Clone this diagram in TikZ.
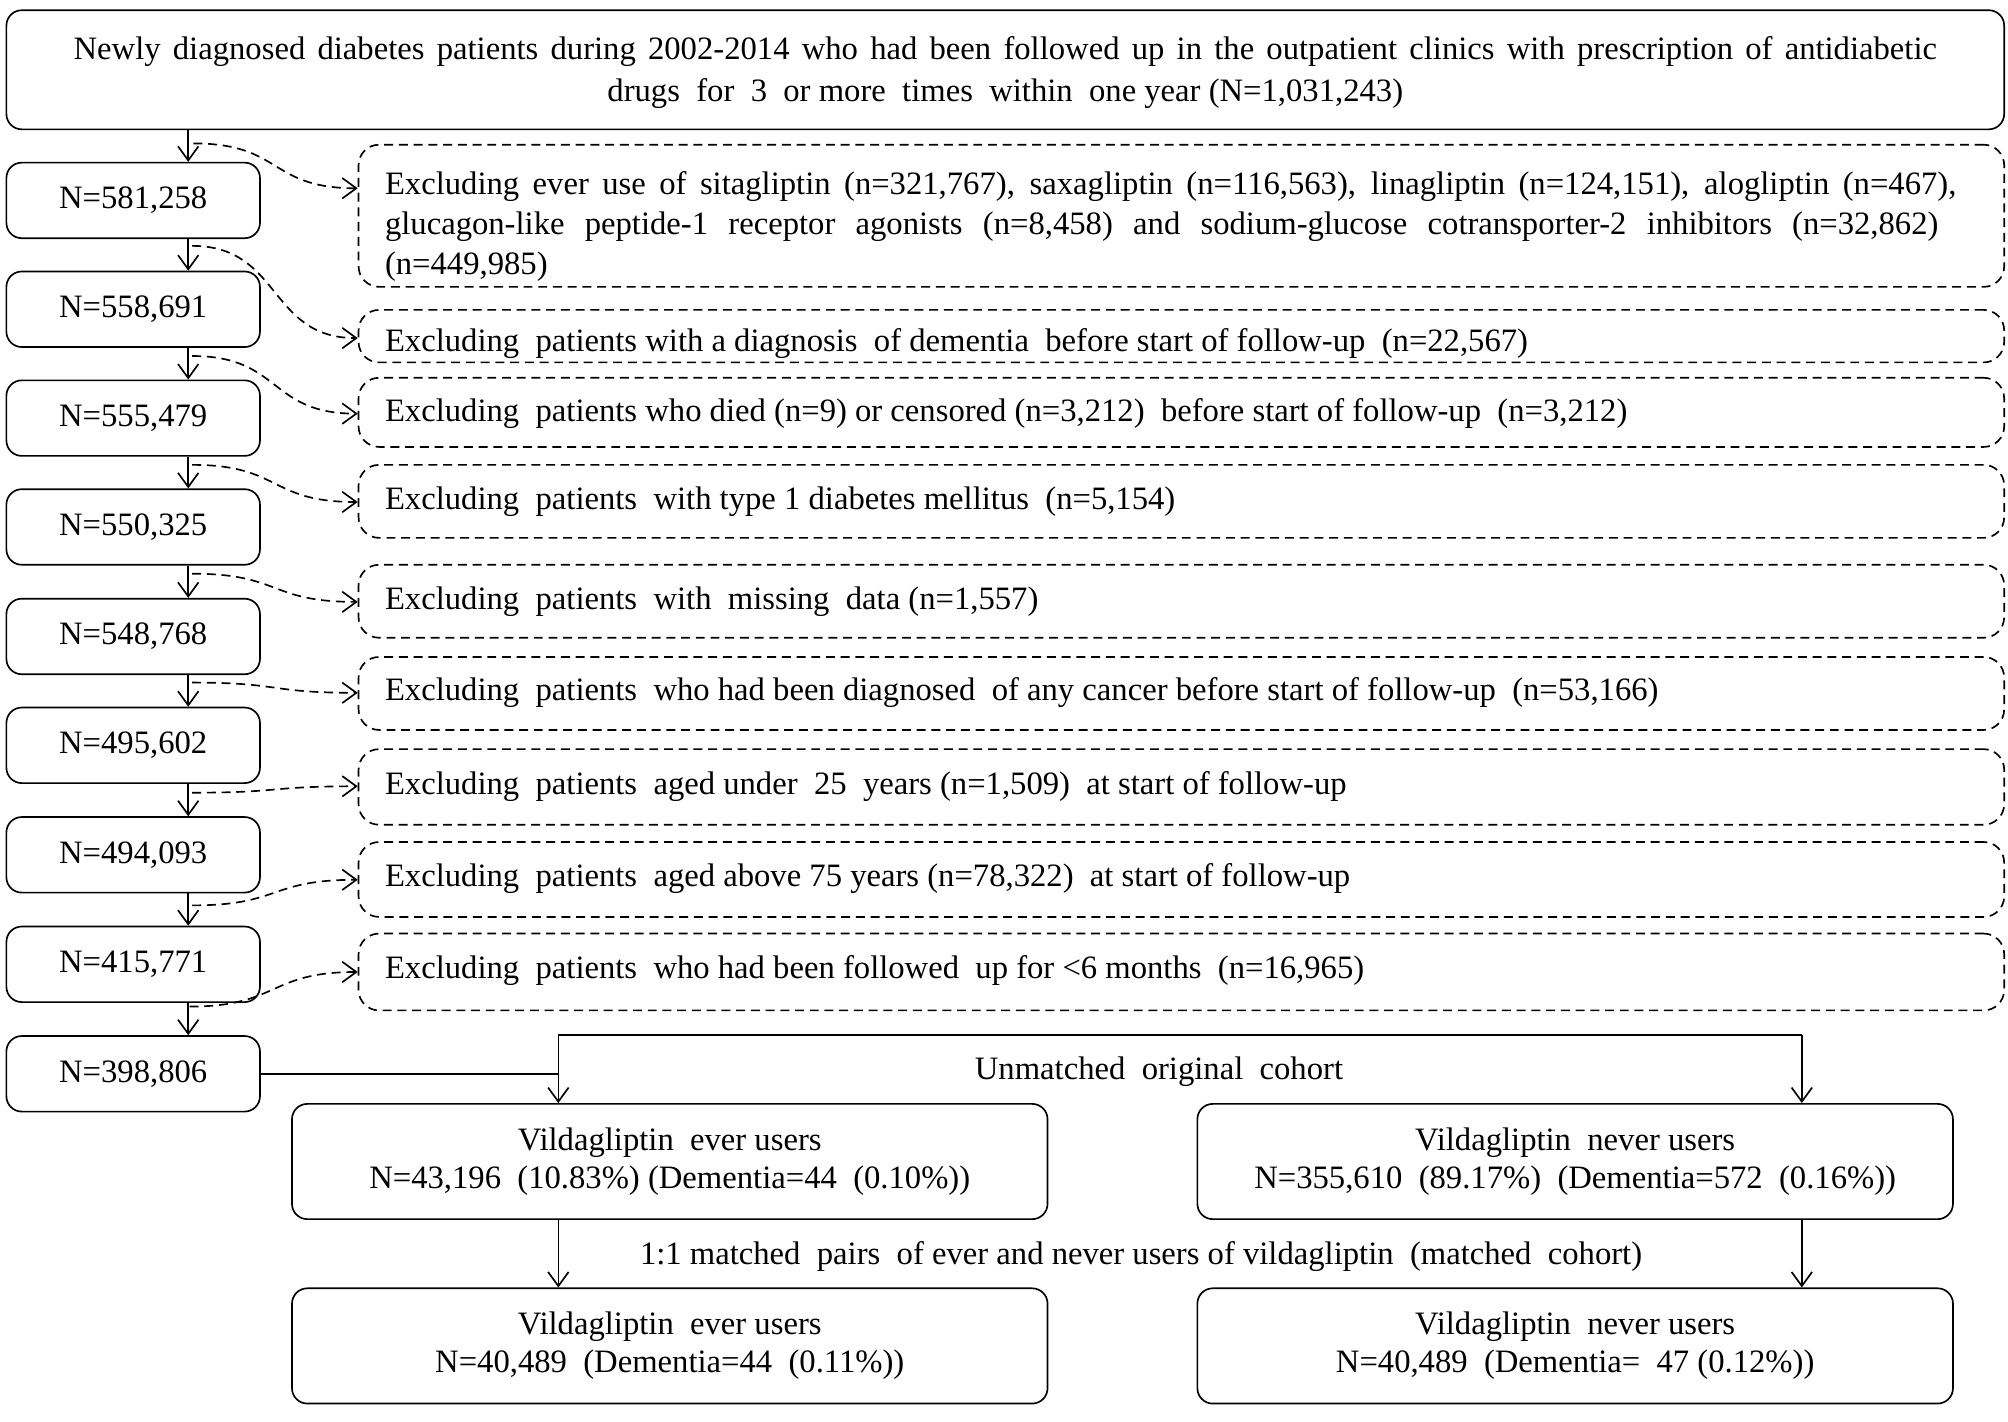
\documentclass[tikz,border=0pt]{standalone}
\usepackage{fontspec}
\setmainfont{Liberation Serif}
\usetikzlibrary{arrows.meta}
\newcommand{\ds}{\hspace{0.5em}}
\begin{document}
\begin{tikzpicture}[x=1pt,y=-1pt,
  font=\fontsize{25.5}{29.5}\selectfont,
  line width=1.3pt,
  solidbox/.style={draw, rounded corners=12pt, inner sep=0pt, align=center},
  dashbox/.style={draw, dash pattern=on 7pt off 4.5pt, rounded corners=16pt, inner sep=0pt,
    minimum width=1285pt},
  dtext/.style={anchor=west, inner sep=0pt, align=left},
  nbox/.style={solidbox, minimum width=198pt, minimum height=59pt},
  userbox/.style={solidbox, minimum width=590pt, minimum height=90pt},
  arr/.style={-{Straight Barb[length=11pt,width=16pt,line width=1.3pt]}},
  darr/.style={arr, dash pattern=on 7pt off 4.5pt},
]
\useasboundingbox (0,0) rectangle (1568,1110);

\node[solidbox, minimum width=1560pt, minimum height=93pt] (top) at (785,54.5) {};
\node[align=center, inner sep=0pt, font=\fontsize{25.5}{33}\selectfont] (ttop) at (785,56.5)
 {\makebox[1455pt][s]{Newly diagnosed diabetes patients during 2002-2014 who had been followed up in the outpatient clinics with prescription of antidiabetic}\\
  drugs\ds for\ds 3\ds or more\ds times\ds within\ds one year (N=1,031,243)};

\coordinate (cx) at (147,0);
\node[nbox] (n1) at (104,156.5) {N=581,258};
\node[nbox] (n2) at (104,241.5) {N=558,691};
\node[nbox] (n3) at (104,326.5) {N=555,479};
\node[nbox] (n4) at (104,411.5) {N=550,325};
\node[nbox] (n5) at (104,497) {N=548,768};
\node[nbox] (n6) at (104,582) {N=495,602};
\node[nbox] (n7) at (104,667.5) {N=494,093};
\node[nbox] (n8) at (104,753) {N=415,771};
\node[nbox] (n9) at (104,838.5) {N=398,806};

\draw[arr] (top.south -| cx) -- (n1.north -| cx);
\draw[arr] (n1.south -| cx) -- (n2.north -| cx);
\draw[arr] (n2.south -| cx) -- (n3.north -| cx);
\draw[arr] (n3.south -| cx) -- (n4.north -| cx);
\draw[arr] (n4.south -| cx) -- (n5.north -| cx);
\draw[arr] (n5.south -| cx) -- (n6.north -| cx);
\draw[arr] (n6.south -| cx) -- (n7.north -| cx);
\draw[arr] (n7.south -| cx) -- (n8.north -| cx);
\draw[arr] (n8.south -| cx) -- (n9.north -| cx);

\node[dashbox, minimum height=111pt] (d1) at (922.5,168.5) {};
\node[dashbox, minimum height=41pt] (d2) at (922.5,262.5) {};
\node[dashbox, minimum height=54pt] (d3) at (922.5,322) {};
\node[dashbox, minimum height=57pt] (d4) at (922.5,391.5) {};
\node[dashbox, minimum height=57pt] (d5) at (922.5,469.5) {};
\node[dashbox, minimum height=57pt] (d6) at (922.5,541.5) {};
\node[dashbox, minimum height=59pt] (d7) at (922.5,614.5) {};
\node[dashbox, minimum height=58.5pt] (d8) at (922.5,686.75) {};
\node[dashbox, minimum height=60pt] (d9) at (922.5,759) {};

\node[dtext, font=\fontsize{25.5}{31}\selectfont] (t1) at (300,177)
 {\makebox[1227pt][s]{Excluding ever use of sitagliptin (n=321,767), saxagliptin (n=116,563), linagliptin (n=124,151), alogliptin (n=467),}\\
  \makebox[1213pt][s]{glucagon-like peptide-1 receptor agonists (n=8,458) and sodium-glucose cotransporter-2 inhibitors (n=32,862)}\\
  (n=449,985)};
\node[dtext] (t2) at (300,268) {Excluding\ds patients with a diagnosis\ds of dementia\ds before start of follow-up\ds (n=22,567)};
\node[dtext] (t3) at (300,323) {Excluding\ds patients who died (n=9) or censored (n=3,212)\ds before start of follow-up\ds (n=3,212)};
\node[dtext] (t4) at (300,392) {Excluding\ds patients\ds with type 1 diabetes mellitus\ds (n=5,154)};
\node[dtext] (t5) at (300,470) {Excluding\ds patients\ds with\ds missing\ds data (n=1,557)};
\node[dtext] (t6) at (300,541) {Excluding\ds patients\ds who had been diagnosed\ds of any cancer before start of follow-up\ds (n=53,166)};
\node[dtext] (t7) at (300,614) {Excluding\ds patients\ds aged under\ds 25\ds years (n=1,509)\ds at start of follow-up};
\node[dtext] (t8) at (300,686) {Excluding\ds patients\ds aged above 75 years (n=78,322)\ds at start of follow-up};
\node[dtext] (t9) at (300,758) {Excluding\ds patients\ds who had been followed\ds up for <6 months\ds (n=16,965)};

\coordinate (s1) at (151,112);
\coordinate (s2) at (150,192);
\coordinate (s3) at (150,278);
\coordinate (s4) at (150,363);
\coordinate (s5) at (150,448);
\coordinate (s6) at (150,533);
\coordinate (s7) at (150,619);
\coordinate (s8) at (150,707);
\coordinate (s9) at (148,786);
\draw[darr] (s1) .. controls +(70,0) and +(-70,0) .. (d1.west |- 0,147);
\draw[darr] (s2) .. controls +(70,0) and +(-70,0) .. (d2.west |- 0,264);
\draw[darr] (s3) .. controls +(70,0) and +(-70,0) .. (d3.west |- 0,323);
\draw[darr] (s4) .. controls +(70,0) and +(-70,0) .. (d4.west |- 0,392);
\draw[darr] (s5) .. controls +(70,0) and +(-70,0) .. (d5.west |- 0,470);
\draw[darr] (s6) .. controls +(70,0) and +(-70,0) .. (d6.west |- 0,541);
\draw[darr] (s7) .. controls +(70,0) and +(-70,0) .. (d7.west |- 0,614);
\draw[darr] (s8) .. controls +(70,0) and +(-70,0) .. (d8.west |- 0,687);
\draw[darr] (s9) .. controls +(70,0) and +(-70,0) .. (d9.west |- 0,759);

\node[userbox] (ev1) at (523,907) {Vildagliptin\ds ever users\\N=43,196\ds (10.83\%) (Dementia=44\ds (0.10\%))};
\node[userbox] (nv1) at (1230,907) {Vildagliptin\ds never users\\N=355,610\ds (89.17\%)\ds (Dementia=572\ds (0.16\%))};
\node[userbox] (ev2) at (523,1051) {Vildagliptin\ds ever users\\N=40,489\ds (Dementia=44\ds (0.11\%))};
\node[userbox] (nv2) at (1230,1051) {Vildagliptin\ds never users\\N=40,489\ds (Dementia=\ds 47 (0.12\%))};

\node (lab1) at (905,837) {Unmatched\ds original\ds cohort};
\node (lab2) at (891,981) {1:1 matched\ds pairs\ds of ever and never users of vildagliptin\ds (matched\ds cohort)};

\coordinate (jL) at (436,808);
\coordinate (jR) at (1407,808);
\draw (n9.east) -- (n9.east -| jL);
\draw (jL) -- (jR);
\draw[arr] (jL) -- (jL |- ev1.north);
\draw[arr] (jR) -- (jR |- nv1.north);
\draw[arr] (jL |- ev1.south) -- (jL |- ev2.north);
\draw[arr] (jR |- nv1.south) -- (jR |- nv2.north);
\end{tikzpicture}
\end{document}
